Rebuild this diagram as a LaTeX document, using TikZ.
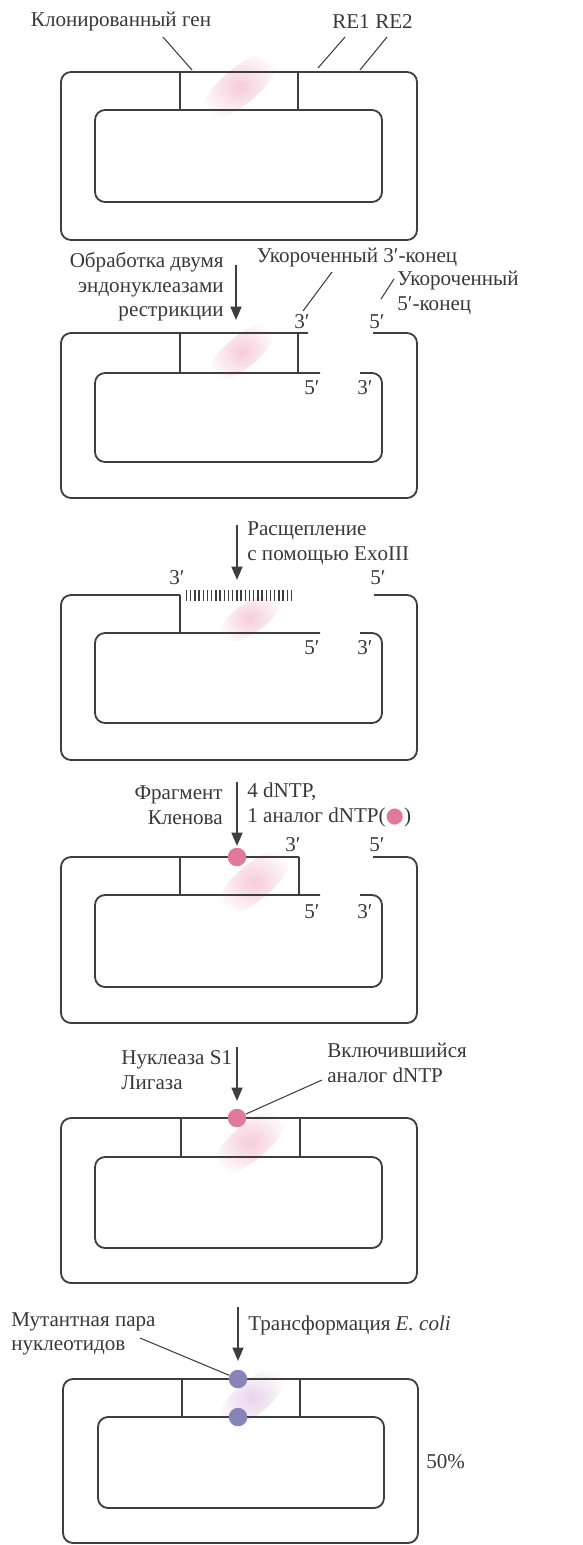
\documentclass[tikz,border=0pt]{standalone}
\usepackage{fontspec}
\setmainfont{Liberation Serif}
\newfontfamily\dotfont{DejaVu Sans}
\usetikzlibrary{arrows.meta}
\definecolor{lineGrey}{HTML}{3E3E3E}
\definecolor{textGrey}{HTML}{383838}
\definecolor{dotPink}{HTML}{E0799A}
\definecolor{dotLilac}{HTML}{8984B8}
\definecolor{blurPink}{HTML}{F5CCD9}
\definecolor{blurLilac}{HTML}{E8D3EA}

\begin{document}
\begin{tikzpicture}[
                x=0.02cm, y=-0.02cm,
                plasStrand/.style={draw=lineGrey,line width=1.05pt,rounded corners=0.2cm},
                plasGene/.style={draw=lineGrey,line width=1.05pt},
                plasHatch/.style={draw=lineGrey,line width=0.9pt},
                plasLeader/.style={draw=lineGrey,line width=0.6pt},
                plasArrow/.style={draw=lineGrey,line width=1.1pt,
                                  -{Triangle[length=0.27cm,width=0.22cm]}},
                plasDot/.style={circle,fill=dotPink,minimum size=0.37cm,inner sep=0pt},
                plasMutDot/.style={circle,fill=dotLilac,minimum size=0.37cm,inner sep=0pt},
                plasBlur/.style={inner color=blurPink,outer color=white},
                every node/.style={text=textGrey,inner sep=0pt,
                                   font=\fontsize{12}{14}\selectfont}]
                \useasboundingbox (0,0) rectangle (582,1545);

                % Intact plasmid: cloned gene between the two strands.
                \shade[plasBlur,rotate around={40:(240,86)}] (240,86) ellipse (48 and 18);
                \draw[plasStrand] (61,72) rectangle (417,240);
                \draw[plasStrand] (95,110) rectangle (382,202);
                \draw[plasGene] (180,72)--(180,110) (298,72)--(298,110);
                \node (geneLbl) at (121,22) {Клонированный ген};
                \node (reOneLbl) at (351,22) {RE1};
                \node (reTwoLbl) at (394,22) {RE2};
                \coordinate (geneFoot) at (163,37);
                \coordinate (geneTip) at (192,70);
                \coordinate (reOneFoot) at (345,37);
                \coordinate (reOneTip) at (318,68);
                \coordinate (reTwoFoot) at (387,37);
                \coordinate (reTwoTip) at (360,70);
                \draw[plasLeader] (geneFoot)--(geneTip);
                \draw[plasLeader] (reOneFoot)--(reOneTip);
                \draw[plasLeader] (reTwoFoot)--(reTwoTip);


                % Cut with two restriction enzymes: recessed 3' and 5' ends.
                \shade[plasBlur,rotate around={40:(242,352)}] (242,352) ellipse (42 and 16);
                \coordinate (cutTop) at (236,265);
                \coordinate (cutTip) at (236,320);
                \draw[plasArrow] (cutTop)--(cutTip);
                \node[anchor=east,align=right] (cutLbl) at (224,287)
                    {Обработка двумя\\эндонуклеазами\\рестрикции};
                \draw[plasStrand] (308,333)--(61,333)--(61,498)--(417,498)--(417,333)--(373,333);
                \draw[plasStrand] (320,373)--(95,373)--(95,462)--(382,462)--(382,373)--(360,373);
                \draw[plasGene] (180,333)--(180,373) (298,333)--(298,373);
                \node (cutEndA) at (302,322) {3′};
                \node (cutEndB) at (377,322) {5′};
                \node (cutEndC) at (312,388) {5′};
                \node (cutEndD) at (365,388) {3′};
                \node (shortThreeLbl) at (357,258) {Укороченный 3′-конец};
                \node[anchor=west,align=left] (shortFiveLbl) at (397,293)
                    {Укороченный\\5′-конец};
                \coordinate (shortThreeFoot) at (332,272);
                \coordinate (shortThreeTip) at (303,311);
                \coordinate (shortFiveFoot) at (394,279);
                \coordinate (shortFiveTip) at (381,299);
                \draw[plasLeader] (shortThreeFoot)--(shortThreeTip);
                \draw[plasLeader] (shortFiveFoot)--(shortFiveTip);


                % ExoIII digestion: the gene strand is chewed back.
                \shade[plasBlur,rotate around={35:(250,618)}] (250,618) ellipse (38 and 15);
                \coordinate (exoTop) at (237,525);
                \coordinate (exoTip) at (237,580);
                \draw[plasArrow] (exoTop)--(exoTip);
                \node[anchor=west,align=left] (exoLbl) at (247,543)
                    {Расщепление\\с помощью ExoIII};
                \draw[plasStrand] (180,595)--(61,595)--(61,760)--(417,760)--(417,595)--(374,595);
                \draw[plasStrand] (320,633)--(95,633)--(95,723)--(382,723)--(382,633)--(360,633);
                \draw[plasGene] (180,595)--(180,633);
                \foreach \k in {0,...,25}
                    \draw[plasHatch] ({186.5+4.2*\k},590)--++(0,11);
                \node (exoEndA) at (177,578) {3′};
                \node (exoEndB) at (378,578) {5′};
                \node (exoEndC) at (312,648) {5′};
                \node (exoEndD) at (365,648) {3′};


                % Klenow fill-in with one dNTP analogue.
                \shade[plasBlur,rotate around={40:(254,882)}] (254,882) ellipse (46 and 18);
                \coordinate (fillTop) at (237,782);
                \coordinate (fillTip) at (237,846);
                \draw[plasArrow] (fillTop)--(fillTip);
                \node[anchor=east,align=right] (klenowLbl) at (223,805)
                    {Фрагмент\\Кленова};
                \node[anchor=west,align=left] (dntpLbl) at (247,805)
                    {4 dNTP,\\1 аналог dNTP({\dotfont\textcolor{dotPink}{●}})};
                \draw[plasStrand] (299,857)--(61,857)--(61,1023)--(417,1023)--(417,857)--(373,857);
                \draw[plasStrand] (320,895)--(95,895)--(95,987)--(382,987)--(382,895)--(360,895);
                \draw[plasGene] (180,857)--(180,895) (299,857)--(299,895);
                \node[plasDot] (fillDot) at (237,857) {};
                \node (fillEndA) at (293,845) {3′};
                \node (fillEndB) at (377,845) {5′};
                \node (fillEndC) at (312,912) {5′};
                \node (fillEndD) at (365,912) {3′};


                % S1 nuclease and ligase close the plasmid.
                \shade[plasBlur,rotate around={40:(250,1142)}] (250,1142) ellipse (46 and 18);
                \coordinate (ligTop) at (237,1047);
                \coordinate (ligTip) at (237,1101);
                \draw[plasArrow] (ligTop)--(ligTip);
                \node[anchor=west,align=left] (ligLbl) at (121,1070)
                    {Нуклеаза S1\\Лигаза};
                \node[anchor=west,align=left] (analogLbl) at (327,1063)
                    {Включившийся\\аналог dNTP};
                \draw[plasStrand] (61,1118) rectangle (417,1283);
                \draw[plasStrand] (95,1157) rectangle (382,1248);
                \draw[plasGene] (181,1118)--(181,1157) (300,1118)--(300,1157);
                \node[plasDot] (ligDot) at (237,1118) {};
                \coordinate (analogFoot) at (322,1080);
                \draw[plasLeader] (analogFoot)--(ligDot);


                % After transformation: half of the plasmids carry the mutant pair.
                \shade[inner color=blurLilac,outer color=white,
                       rotate around={40:(252,1398)}] (252,1398) ellipse (42 and 17);
                \coordinate (trTop) at (238,1307);
                \coordinate (trTip) at (238,1361);
                \draw[plasArrow] (trTop)--(trTip);
                \node[anchor=west] (trLbl) at (248,1325)
                    {Трансформация \textit{E. coli}};
                \node[anchor=west,align=left] (mutLbl) at (11,1334)
                    {Мутантная пара\\нуклеотидов};
                \draw[plasStrand] (63,1379) rectangle (418,1543);
                \draw[plasStrand] (98,1417) rectangle (384,1508);
                \draw[plasGene] (182,1379)--(182,1417) (300,1379)--(300,1417);
                \node[plasMutDot] (mutDotTop) at (238,1379) {};
                \node[plasMutDot] (mutDotBot) at (238,1417) {};
                \coordinate (mutFoot) at (140,1338);
                \draw[plasLeader] (mutFoot)--(mutDotTop);
                \node[anchor=west] (pctLbl) at (426,1462) {50\%};

            \end{tikzpicture}
\end{document}
